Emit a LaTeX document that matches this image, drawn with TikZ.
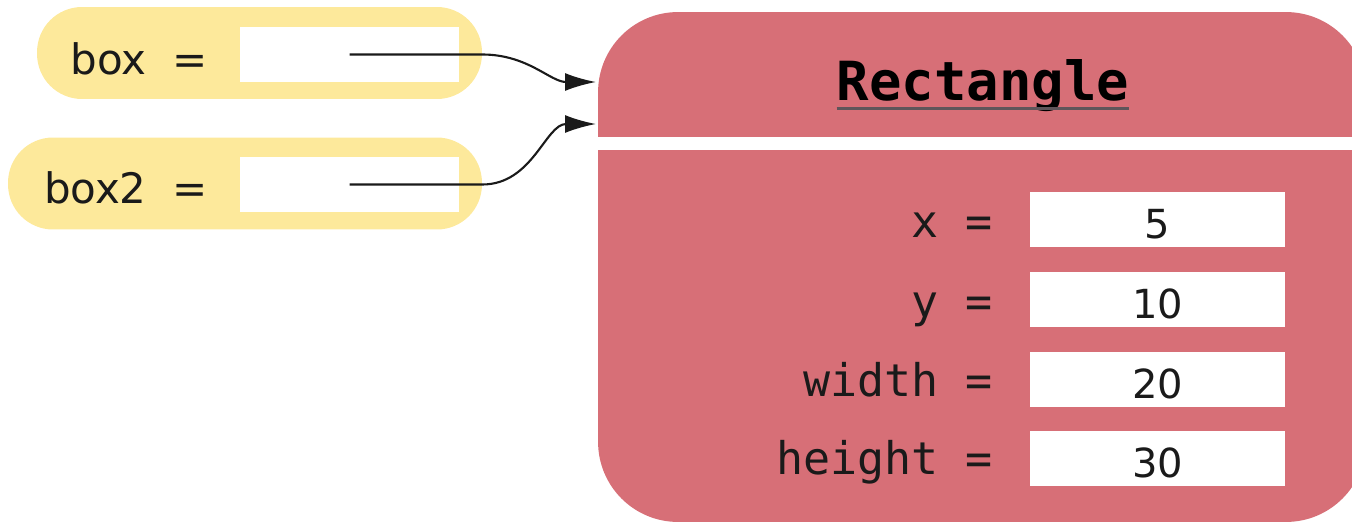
\documentclass[tikz,border=0pt]{standalone}
\usepackage{fontspec}
\usetikzlibrary{arrows.meta}
\newfontfamily\sansfont{DejaVu Sans}
\newfontfamily\codefont{DejaVu Sans Mono}
\definecolor{pillyellow}{RGB}{253,233,155}
\definecolor{objred}{RGB}{215,111,119}
\definecolor{inkblack}{RGB}{26,26,26}
\definecolor{rulegray}{RGB}{95,85,90}
\tikzset{
  refpill/.style={fill=pillyellow, rounded corners=0.9cm, inner sep=0, minimum height=1.84cm},
  slotbox/.style={fill=white, inner sep=0, minimum width=4.38cm, minimum height=1.1cm},
  objbox/.style={fill=objred, rounded corners=1.6cm, inner sep=0},
  fieldbox/.style={fill=white, inner sep=0, minimum width=5.1cm, minimum height=1.1cm,
    text height=0.74cm, text depth=0cm, text=inkblack, font=\sansfont\fontsize{22.8}{26}\selectfont},
  fieldname/.style={anchor=base east, inner sep=0, text=inkblack, font=\codefont\fontsize{25.6}{30}\selectfont},
  varname/.style={anchor=base east, inner sep=0, text=inkblack, font=\sansfont\fontsize{23.9}{28}\selectfont},
  classname/.style={anchor=base, inner sep=0, text=black, font=\codefont\bfseries\fontsize{30.7}{36}\selectfont},
  refarrow/.style={-{Latex[length=0.62cm,width=0.36cm]}, line width=1.2pt, draw=inkblack},
}
\begin{document}
\begin{tikzpicture}[x=0.02cm, y=-0.02cm]
\useasboundingbox (0,0) rectangle (1352,524);
% variables
\node[refpill, minimum width=8.9cm] (pill1) at (259.5,53) {};
\node[refpill, minimum width=9.48cm] (pill2) at (245,183.5) {};
\node[slotbox] (slot1) at (349.5,54.5) {};
\node[slotbox] (slot2) at (349.5,184.5) {};
\node[varname] (box) at (208,74) {box\hspace{0.25cm} =};
\node[varname] (box2) at (208,203) {box2\hspace{0.25cm} =};
% object
\node[objbox, minimum width=15.36cm, minimum height=10.2cm] (obj) at (982,267) {};
\node[fill=white, inner sep=0, minimum width=15.6cm, minimum height=0.26cm] (gap) at (982,143.5) {};
\node[classname] (title) at (983,100) {Rectangle};
\draw[rulegray, line width=1.6pt] ([yshift=-0.17cm]title.base west) -- ([yshift=-0.17cm]title.base east);
% fields
\node[fieldbox] (xval) at (1157.5,219.5) {5};
\node[fieldbox] (yval) at (1157.5,299.5) {10};
\node[fieldbox] (wval) at (1157.5,379.5) {20};
\node[fieldbox] (hval) at (1157.5,458.5) {30};
\node[fieldname] (xname) at (993,237) {x =};
\node[fieldname] (yname) at (993,317) {y =};
\node[fieldname] (wname) at (993,396) {width =};
\node[fieldname] (hname) at (993,474) {height =};
% references
\coordinate (tip1) at (596,82);
\coordinate (tip2) at (596,124);
\draw[refarrow] (slot1.center) -- (slot1.center -| pill1.east) to[out=0,in=180] (tip1);
\draw[refarrow] (slot2.center) -- (slot2.center -| pill2.east) to[out=0,in=180] (tip2);
\end{tikzpicture}
\end{document}
